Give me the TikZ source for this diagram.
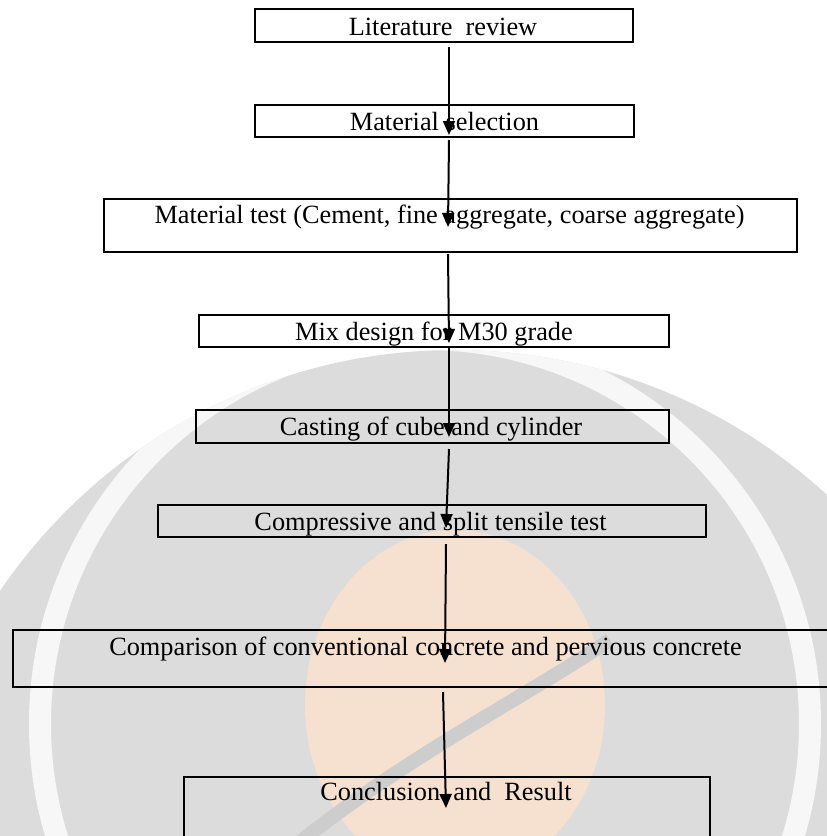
\documentclass[tikz,border=0pt]{standalone}
\usepackage{fontspec}
\setmainfont{Liberation Serif}
\usetikzlibrary{arrows.meta}
\definecolor{wmgray}{RGB}{220,220,220}
\definecolor{wmring}{RGB}{247,247,247}
\definecolor{wmpeach}{RGB}{246,224,208}
\definecolor{wmdark}{RGB}{205,205,205}
\begin{document}
\begin{tikzpicture}[x=1pt,y=-1pt,
  box/.style={draw=black, line width=2.3pt, inner sep=0pt},
  lbl/.style={font=\fontsize{26.3}{30}\selectfont, anchor=base, inner sep=0pt},
  flow/.style={line width=2pt, -{Triangle[length=14pt,width=12pt]}}]
\useasboundingbox (0,0) rectangle (827,836);
\clip (0,0) rectangle (827,836);
% faint watermark
\fill[wmgray] (455,900) circle[radius=550];
\begin{scope}
  \clip (455,900) circle[radius=550];
  \draw[wmring, line width=22pt] (425,724) circle[radius=385];
\end{scope}
\fill[wmpeach] (455,705) ellipse[x radius=150, y radius=175];
\draw[wmdark, line width=14pt] (290,850) .. controls (400,760) and (520,700) .. (610,640);
% boxes
\node[box, minimum width=378pt, minimum height=33pt] (b1) at (444,25.5) {};
\node[box, minimum width=379pt, minimum height=32pt] (b2) at (444.5,121) {};
\node[box, minimum width=693pt, minimum height=53pt] (b3) at (450.5,225.5) {};
\node[box, minimum width=470pt, minimum height=32pt] (b4) at (434,331) {};
\node[box, minimum width=473pt, minimum height=33pt] (b5) at (432.5,426.5) {};
\node[box, minimum width=548pt, minimum height=32pt] (b6) at (432,521) {};
\node[box, minimum width=830pt, minimum height=57pt] (b7) at (428,658.5) {};
\node[box, minimum width=526pt, minimum height=80pt] (b8) at (447,817) {};
% texts
\node[lbl] (t1) at (443,35) {Literature\ \ review};
\node[lbl] (t2) at (444.5,130) {Material selection};
\node[lbl] (t3) at (449.5,223) {Material test (Cement, fine aggregate, coarse aggregate)};
\node[lbl] (t4) at (434,340) {Mix design for M30 grade};
\node[lbl] (t5) at (431,435) {Casting of cube and cylinder};
\node[lbl] (t6) at (430.5,530) {Compressive and split tensile test};
\node[lbl] (t7) at (425.5,655) {Comparison of conventional concrete and pervious concrete};
\node[lbl] (t8) at (446,800) {Conclusion\ \ and\ \ Result};
% connector ends
\coordinate (s1) at (449,47);  \coordinate (e1) at (449,135);
\coordinate (s2) at (449,140); \coordinate (e2) at (448,227);
\coordinate (s3) at (448,254); \coordinate (e3) at (449,343);
\coordinate (s4) at (449,348); \coordinate (e4) at (449,437);
\coordinate (s5) at (449,449); \coordinate (e5) at (446,528);
\coordinate (s6) at (446,544); \coordinate (e6) at (445,663);
\coordinate (s7) at (443,692); \coordinate (e7) at (446,808);
\draw[flow] (s1) -- (e1);
\draw[flow] (s2) -- (e2);
\draw[flow] (s3) -- (e3);
\draw[flow] (s4) -- (e4);
\draw[flow] (s5) -- (e5);
\draw[flow] (s6) -- (e6);
\draw[flow] (s7) -- (e7);
\end{tikzpicture}
\end{document}
